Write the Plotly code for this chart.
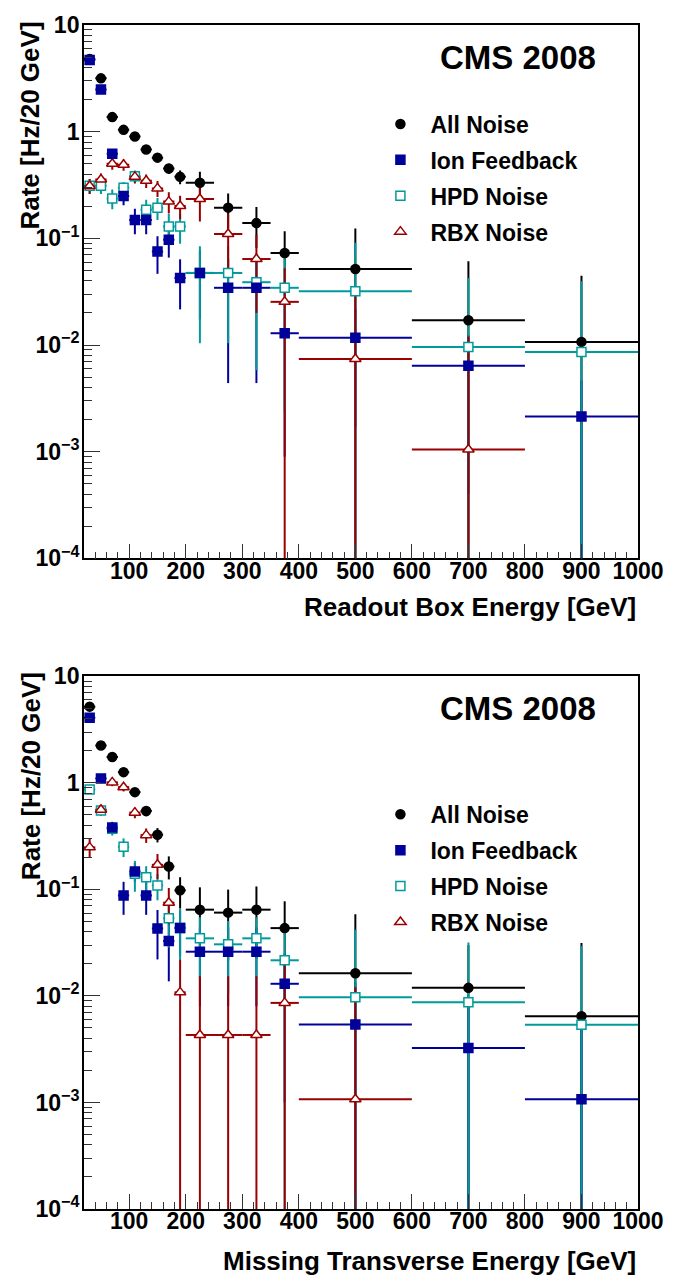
import plotly.graph_objects as go

# ---------------- data ----------------
bin_edges = [20, 40, 60, 80, 100, 120, 140, 160, 180, 200, 250, 300, 350, 400, 600, 800, 1000]

series_names = ["All Noise", "Ion Feedback", "HPD Noise", "RBX Noise"]

# top panel: Readout Box Energy
rbx_all = [4.8, 3.16, 1.37, 1.04, 0.90, 0.68, 0.571, 0.451, 0.377, 0.332, 0.194, 0.139, 0.0728, 0.0516, 0.0171, 0.0107]
rbx_all_err = [0.1, 0.08, 0.05, 0.05, 0.05, 0.05, 0.05, 0.05, 0.055, 0.09, 0.07, 0.058, 0.044, 0.072, 0.044, 0.034]
rbx_ion = [4.7, 2.49, 0.62, 0.249, 0.149, 0.149, 0.0755, 0.097, 0.0426, 0.0474, 0.0344, 0.0344, 0.0129, 0.0117, 0.0064, 0.00214]
rbx_ion_err = [0.1, 0.08, 0.05, 0.045, 0.04, 0.04, 0.029, 0.031, 0.021, 0.03, 0.030, 0.030, 0.012, 0.01, 0.006, 0.0025]
rbx_hpd = [0.311, 0.311, 0.237, 0.298, 0.383, 0.185, 0.194, 0.129, 0.129, 0.0474, 0.0474, 0.0388, 0.0344, 0.032, 0.0096, 0.0086]
rbx_hpd_err = [0.05, 0.05, 0.05, 0.04, 0.05, 0.045, 0.045, 0.04, 0.04, 0.037, 0.037, 0.033, 0.032, 0.059, 0.033, 0.031]
rbx_rbx = [0.31, 0.356, 0.50, 0.49, 0.377, 0.347, 0.294, 0.221, 0.201, 0.234, 0.110, 0.064, 0.0254, 0.0074, 0.00105, None]
rbx_rbx_err = [0.05, 0.05, 0.06, 0.06, 0.05, 0.05, 0.05, 0.05, 0.05, 0.09, 0.06, 0.044, 0.027, 0.028, 0.011, None]

# bottom panel: Missing Transverse Energy
met_all = [5.19, 2.24, 1.75, 1.26, 0.818, 0.545, 0.326, 0.164, 0.098, 0.0645, 0.0605, 0.0645, 0.0433, 0.0163, 0.0119, 0.00646]
met_all_err = [0.2, 0.1, 0.09, 0.08, 0.06, 0.06, 0.05, 0.04, 0.032, 0.04, 0.039, 0.042, 0.034, 0.042, 0.018, 0.025]
met_ion = [4.09, 1.10, 0.38, 0.0877, 0.147, 0.0877, 0.043, 0.0327, 0.0435, 0.026, 0.026, 0.026, 0.013, 0.0054, 0.00325, 0.00107]
met_ion_err = [0.15, 0.08, 0.05, 0.03, 0.03, 0.03, 0.021, 0.019, 0.02, 0.018, 0.018, 0.018, 0.012, 0.008, 0.006, 0.0045]
met_hpd = [0.867, 0.55, 0.37, 0.251, 0.14, 0.13, 0.109, 0.0535, 0.0435, 0.0347, 0.0305, 0.0347, 0.0216, 0.0097, 0.0087, 0.00536]
met_hpd_err = [0.07, 0.06, 0.05, 0.05, 0.045, 0.035, 0.03, 0.025, 0.022, 0.02, 0.02, 0.02, 0.022, 0.032, 0.023, 0.024]
met_rbx = [0.248, 0.56, 1.01, 0.91, 0.525, 0.323, 0.17, 0.075, 0.0108, 0.0043, 0.0043, 0.0043, 0.0086, 0.00107, None, None]
met_rbx_err = [0.05, 0.06, 0.08, 0.08, 0.06, 0.05, 0.045, 0.028, 0.011, 0.011, 0.011, 0.011, 0.013, 0.011, None, None]

x_title_top = "Readout Box Energy [GeV]"
x_title_bottom = "Missing Transverse Energy [GeV]"
y_title = "Rate [Hz/20 GeV]"
label_text = "CMS 2008"

# ---------------- styling ----------------
colors = ["#000000", "#00009a", "#009a9a", "#9a0000"]
symbols = ["circle", "square", "square", "triangle-up"]
fills = ["#000000", "#00009a", "#ffffff", "#ffffff"]
msizes = [9, 9, 9, 10]
FONT = "Liberation Sans, Arial, Helvetica, sans-serif"

centers = [(a + b) / 2 for a, b in zip(bin_edges[:-1], bin_edges[1:])]
halfw = [(b - a) / 2 for a, b in zip(bin_edges[:-1], bin_edges[1:])]

fig = go.Figure()

panels = [
    ("x", "y", "legend", [rbx_all, rbx_ion, rbx_hpd, rbx_rbx],
     [rbx_all_err, rbx_ion_err, rbx_hpd_err, rbx_rbx_err]),
    ("x2", "y2", "legend2", [met_all, met_ion, met_hpd, met_rbx],
     [met_all_err, met_ion_err, met_hpd_err, met_rbx_err]),
]

marker_order = [0, 2, 3, 1]
for pi, (xa, ya, leg, vals, errs) in enumerate(panels):
    # error bars first
    for i in range(4):
        xs = [c for c, v in zip(centers, vals[i]) if v is not None]
        ys = [v for v in vals[i] if v is not None]
        es = [e for v, e in zip(vals[i], errs[i]) if v is not None]
        hw = [h for h, v in zip(halfw, vals[i]) if v is not None]
        fig.add_trace(go.Scatter(
            x=xs, y=ys, mode="markers", xaxis=xa, yaxis=ya,
            marker=dict(size=1, opacity=0),
            error_y=dict(type="data", array=es, symmetric=True, color=colors[i], thickness=2, width=0),
            error_x=dict(type="data", array=hw, symmetric=True, color=colors[i], thickness=2, width=0),
            showlegend=False, hoverinfo="skip",
        ))
    # markers on top
    for i in marker_order:
        xs = [c for c, v in zip(centers, vals[i]) if v is not None]
        ys = [v for v in vals[i] if v is not None]
        fig.add_trace(go.Scatter(
            x=xs, y=ys, mode="markers", xaxis=xa, yaxis=ya,
            name=series_names[i], legend=leg, legendgroup=f"{series_names[i]}{pi}",
            legendrank=i,
            marker=dict(symbol=symbols[i], size=msizes[i], color=fills[i],
                        line=dict(color=colors[i], width=1.5)),
            showlegend=True,
        ))

axis_common = dict(
    showline=True, linecolor="black", linewidth=1.5, mirror=True,
    showgrid=False, zeroline=False, ticks="inside", tickcolor="#333",
)

x_common = dict(axis_common, range=[20, 1000], tick0=0, dtick=100, ticklen=15,
                tickfont=dict(family=FONT, size=23, color="black", weight="bold"),
                minor=dict(ticks="inside", dtick=20, tick0=0, ticklen=7, tickcolor="#333", showgrid=False),
                ticklabelstandoff=-9)
y_common = dict(axis_common, type="log", range=[-4, 1], dtick=1, exponentformat="power", ticklen=16,
                tickfont=dict(family=FONT, size=18.5, color="black", weight="bold"),
                minor=dict(ticks="inside", dtick="D1", ticklen=8, tickcolor="#333", showgrid=False),
                ticklabelstandoff=-1)

W, H = 676, 1280
L, R, T, B = 84, 676 - 643, 17, 1280 - 1209
PH = H - T - B

def ypap(py):
    return (1209 - py) / PH

def xpap(px):
    return (px - 84) / (643 - 84)

legend_font = dict(family=FONT, size=23, color="black", weight="bold")
fig.update_layout(
    width=W, height=H,
    margin=dict(l=L, r=R, t=T, b=B),
    paper_bgcolor="white", plot_bgcolor="white",
    xaxis=dict(x_common, domain=[0, 1], anchor="y"),
    yaxis=dict(y_common, domain=[ypap(554), 1], anchor="x"),
    xaxis2=dict(x_common, domain=[0, 1], anchor="y2"),
    yaxis2=dict(y_common, domain=[0, ypap(672.7)], anchor="x2"),
    legend=dict(x=xpap(373), y=ypap(95), xanchor="left", yanchor="top",
                bgcolor="rgba(0,0,0,0)", borderwidth=0, itemwidth=50, tracegroupgap=3,
                font=legend_font, itemclick=False),
    legend2=dict(x=xpap(373), y=ypap(790), xanchor="left", yanchor="top",
                 bgcolor="rgba(0,0,0,0)", borderwidth=0, itemwidth=50, tracegroupgap=3,
                 font=legend_font, itemclick=False),
    showlegend=True,
)

ann_font_title = dict(family=FONT, size=26, color="black", weight="bold")
cms_font = dict(family=FONT, size=33, color="black", weight="bold")
annotations = [
    dict(text=label_text, xref="paper", yref="paper", x=xpap(521.5), y=ypap(50),
         xanchor="center", yanchor="middle", showarrow=False, font=cms_font),
    dict(text=label_text, xref="paper", yref="paper", x=xpap(521.5), y=ypap(705),
         xanchor="center", yanchor="middle", showarrow=False, font=cms_font),
    dict(text=x_title_top, xref="paper", yref="paper", x=1.0, y=ypap(603),
         xanchor="right", yanchor="middle", showarrow=False, font=ann_font_title),
    dict(text=x_title_bottom, xref="paper", yref="paper", x=1.0, y=ypap(1261),
         xanchor="right", yanchor="middle", showarrow=False, font=ann_font_title),
    dict(text=y_title, xref="paper", yref="paper", x=xpap(30), y=ypap(11),
         xanchor="center", yanchor="top", textangle=-90, showarrow=False, font=ann_font_title),
    dict(text=y_title, xref="paper", yref="paper", x=xpap(30), y=ypap(666),
         xanchor="center", yanchor="top", textangle=-90, showarrow=False, font=ann_font_title),
]
fig.update_layout(annotations=annotations)

fig.write_html("out.html")
